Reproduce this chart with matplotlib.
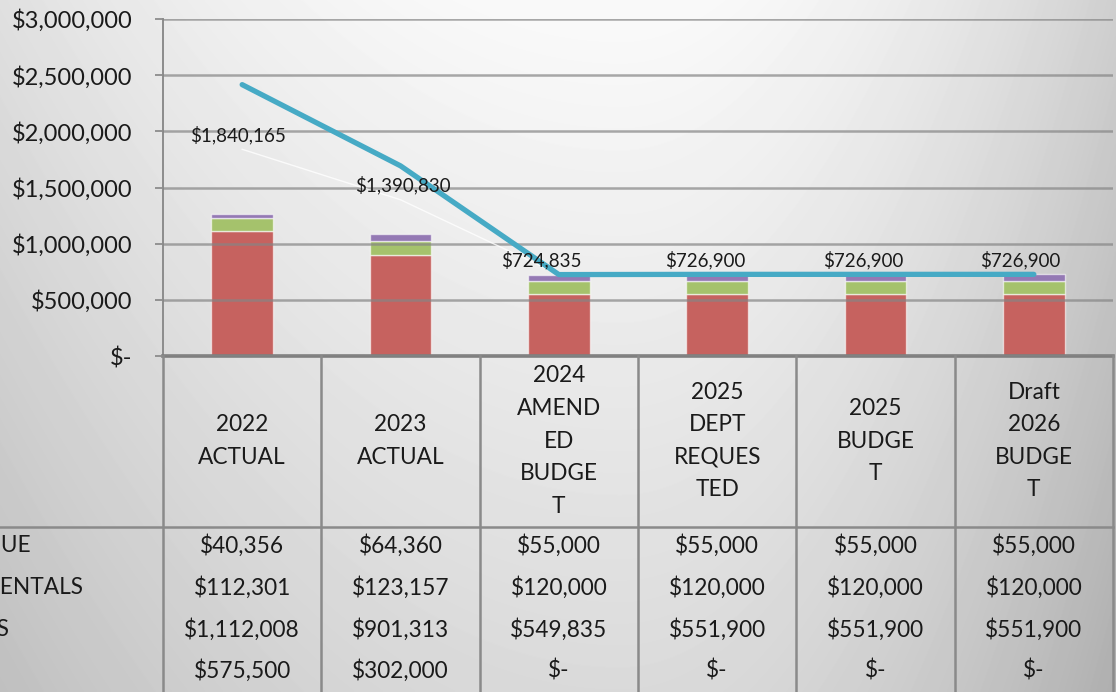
import matplotlib.pyplot as plt
import numpy as np

plt.rcParams['font.family'] = ['Lato', 'DejaVu Sans']

# data
columns = ["2022\nACTUAL", "2023\nACTUAL", "2024\nAMEND\nED\nBUDGE\nT",
           "2025\nDEPT\nREQUES\nTED", "2025\nBUDGE\nT", "Draft\n2026\nBUDGE\nT"]
row_names = ["LOCAL REVENUE", "FACILITY RENTALS", "OTHER TAXES", ""]
revenue = [40356, 64360, 55000, 55000, 55000, 55000]
rentals = [112301, 123157, 120000, 120000, 120000, 120000]
taxes = [1112008, 901313, 549835, 551900, 551900, 551900]
other = [575500, 302000, 0, 0, 0, 0]

rows = [revenue, rentals, taxes, other]
total = [sum(v) for v in zip(*rows)]
stacked_total = [t + o for t, o in zip(total, other)]


def money(v):
    return "$-" if v == 0 else f"${v:,.0f}"


W, H = 1116, 692
fig = plt.figure(figsize=(W / 100, H / 100), dpi=100)

# soft grey background
yy, xx = np.mgrid[0:H, 0:W]
hx = np.where(xx > 620, ((xx - 620) / 500.0) ** 2, ((620 - xx) / 800.0) ** 2)
shade = np.clip(250 - 44 * hx - 32 * yy / H, 0, 255)
bg = fig.add_axes([0, 0, 1, 1], zorder=-10)
bg.imshow(shade, cmap='gray', vmin=0, vmax=255, aspect='auto', interpolation='bilinear')
bg.axis('off')

ax = fig.add_axes([163 / W, 1 - 356 / H, 950 / W, 337 / H])
ax.patch.set_visible(False)
x = np.arange(len(columns))

bw = 0.39
edge = (1, 1, 1, 0.6)
ax.bar(x, taxes, bw, color='#C6625F', edgecolor=edge, lw=1, zorder=2)
ax.bar(x, rentals, bw, bottom=taxes, color='#A5C26C', edgecolor=edge, lw=1, zorder=2)
bottom2 = [a + b for a, b in zip(taxes, rentals)]
ax.bar(x, revenue, bw, bottom=bottom2, color='#9479B4', edgecolor=edge, lw=1, zorder=2)

ax.plot(x, total, color='white', lw=1, alpha=0.8, zorder=4)
ax.plot(x, stacked_total, color='#46AAC5', lw=3.8, solid_capstyle='round',
        solid_joinstyle='round', zorder=5)

nudge = [-4, 2, -18, -12, -12, -14]
for i, t in enumerate(total):
    ax.annotate(money(t), (x[i], t), xytext=(nudge[i] * 0.72, 10.5),
                textcoords='offset points', ha='center', va='center',
                fontsize=13.5, color='#1a1a1a', zorder=6)

ax.set_xlim(-0.5, len(columns) - 0.5)
ax.set_ylim(0, 3000000)
ax.set_yticks(np.arange(0, 3000001, 500000))
ax.set_yticklabels([money(v) for v in np.arange(0, 3000001, 500000)])
ax.set_xticks([])
ax.yaxis.grid(True, color='#858585', lw=1.8, alpha=0.7, zorder=3)
ax.set_axisbelow(False)
ax.tick_params(axis='y', length=6, width=1.3, color='#8c8c8c', pad=16,
               labelsize=17, labelcolor='#1a1a1a')
for s in ['top', 'right']:
    ax.spines[s].set_visible(False)
ax.spines['left'].set_color('#8c8c8c')
ax.spines['left'].set_linewidth(1.4)
ax.spines['bottom'].set_color('#7f7f7f')
ax.spines['bottom'].set_linewidth(2.6)

# data table under the chart
tax = fig.add_axes([163 / W, 0, 950 / W, 336 / H])
tax.set_xlim(-0.5, len(columns) - 0.5)
tax.set_ylim(336, 0)
tax.axis('off')
line_kw = dict(color='#8a8a8a', lw=1.8, clip_on=False)
for b in np.arange(-0.5, len(columns), 1.0):
    tax.plot([b, b], [0, 336], **line_kw)
tax.plot([-1.6, len(columns) - 0.5], [171, 171], **line_kw)

for i, c in enumerate(columns):
    tax.text(x[i], 85, c, ha='center', va='center', fontsize=16.3,
             color='#1a1a1a', linespacing=1.68)

# row names run off the left edge, as in the source
renderer = fig.canvas.get_renderer()
shown = [2, 6, 1, 0]
shift = [1, 0, -3, 0]
row_y = [190, 232, 274, 315]
for r, (name, vals) in enumerate(zip(row_names, rows)):
    pre = fig.text(0, 0, name[:len(name) - shown[r]], fontsize=16.3)
    w = pre.get_window_extent(renderer).width if name else 0
    pre.remove()
    fig.text((shift[r] - w) / W, 1 - (356 + row_y[r]) / H, name, ha='left',
             va='center', fontsize=16.3, color='#1a1a1a')
    for i, v in enumerate(vals):
        tax.text(x[i], row_y[r], money(v), ha='center', va='center',
                 fontsize=16.3, color='#1a1a1a')

fig.savefig('out.png', dpi=100)
